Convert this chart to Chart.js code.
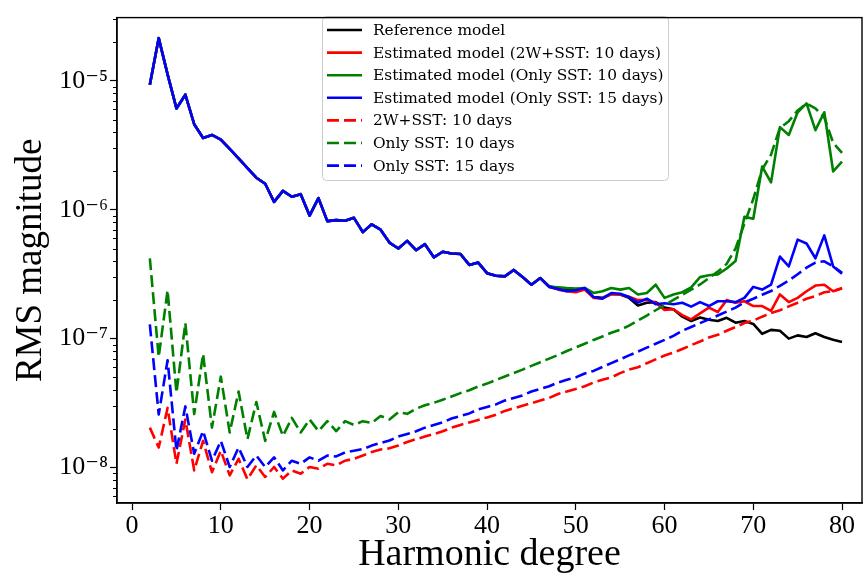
<!DOCTYPE html>
<html>
<head>
<meta charset="utf-8">
<script src="https://cdn.jsdelivr.net/npm/chart.js@4.4.0/dist/chart.umd.min.js"></script>
<style>
  html, body { margin: 0; padding: 0; background: #fff; }
</style>
</head>
<body>
<canvas id="chart" width="868" height="580"></canvas>
<script>
// harmonic degrees on the x axis
const degrees = [2, 3, 4, 5, 6, 7, 8, 9, 10, 11, 12, 13, 14, 15, 16, 17, 18, 19, 20, 21,
  22, 23, 24, 25, 26, 27, 28, 29, 30, 31, 32, 33, 34, 35, 36, 37, 38, 39, 40, 41,
  42, 43, 44, 45, 46, 47, 48, 49, 50, 51, 52, 53, 54, 55, 56, 57, 58, 59, 60, 61,
  62, 63, 64, 65, 66, 67, 68, 69, 70, 71, 72, 73, 74, 75, 76, 77, 78, 79, 80];
const xTicks = [0, 10, 20, 30, 40, 50, 60, 70, 80];
const yDecades = [1e-8, 1e-7, 1e-6, 1e-5];

// the four solid curves lie on top of each other up to degree 46
const solidEarly = [9.3e-6, 2.14e-5, 1.12e-5, 6.1e-6, 7.8e-6, 4.6e-6, 3.6e-6, 3.8e-6, 3.5e-6, 2.96e-6,
  2.5e-6, 2.1e-6, 1.77e-6, 1.59e-6, 1.15e-6, 1.4e-6, 1.26e-6, 1.32e-6, 9.0e-7, 1.23e-6,
  8.15e-7, 8.3e-7, 8.2e-7, 8.65e-7, 6.7e-7, 7.7e-7, 7.0e-7, 5.56e-7, 5.0e-7, 5.73e-7,
  4.85e-7, 5.4e-7, 4.27e-7, 4.72e-7, 4.58e-7, 4.53e-7, 3.73e-7, 3.89e-7, 3.22e-7, 3.07e-7,
  3.04e-7, 3.41e-7, 3.0e-7, 2.62e-7, 2.95e-7];

// degrees 47..80
const refLate = [2.55e-7, 2.47e-7, 2.43e-7, 2.36e-7, 2.43e-7, 2.1e-7, 2.07e-7, 2.23e-7, 2.2e-7, 2.07e-7,
  1.81e-7, 1.9e-7, 1.92e-7, 1.74e-7, 1.69e-7, 1.48e-7, 1.37e-7, 1.46e-7, 1.4e-7, 1.37e-7,
  1.45e-7, 1.33e-7, 1.37e-7, 1.3e-7, 1.09e-7, 1.17e-7, 1.15e-7, 1.0e-7, 1.06e-7, 1.03e-7,
  1.1e-7, 1.03e-7, 9.8e-8, 9.4e-8];
const est2wLate = [2.52e-7, 2.4e-7, 2.33e-7, 2.29e-7, 2.4e-7, 2.07e-7, 2.05e-7, 2.21e-7, 2.2e-7, 2.11e-7,
  1.99e-7, 2.0e-7, 1.9e-7, 1.67e-7, 1.69e-7, 1.52e-7, 1.41e-7, 1.57e-7, 1.74e-7, 1.61e-7,
  1.99e-7, 1.9e-7, 1.95e-7, 1.79e-7, 1.79e-7, 1.64e-7, 2.2e-7, 1.92e-7, 2.07e-7, 2.33e-7,
  2.58e-7, 2.62e-7, 2.33e-7, 2.47e-7];
const estSst10Late = [2.52e-7, 2.5e-7, 2.47e-7, 2.45e-7, 2.47e-7, 2.26e-7, 2.33e-7, 2.47e-7, 2.4e-7, 2.47e-7,
  2.2e-7, 2.26e-7, 2.62e-7, 2.07e-7, 2.2e-7, 2.29e-7, 2.5e-7, 3.0e-7, 3.1e-7, 3.15e-7,
  3.5e-7, 4.0e-7, 8.8e-7, 8.5e-7, 2.16e-6, 1.63e-6, 4.37e-6, 3.8e-6, 5.7e-6, 6.67e-6,
  4.14e-6, 5.7e-6, 1.98e-6, 2.36e-6];
const estSst15Late = [2.52e-7, 2.43e-7, 2.33e-7, 2.37e-7, 2.47e-7, 2.1e-7, 2.04e-7, 2.26e-7, 2.23e-7, 2.1e-7,
  1.9e-7, 2.04e-7, 1.85e-7, 1.88e-7, 1.85e-7, 1.9e-7, 1.77e-7, 1.92e-7, 1.79e-7, 1.95e-7,
  1.95e-7, 1.92e-7, 2.07e-7, 2.52e-7, 2.4e-7, 2.62e-7, 4.33e-7, 3.63e-7, 5.86e-7, 5.47e-7,
  4.2e-7, 6.32e-7, 3.63e-7, 3.18e-7];

// dashed curves, degrees 2..80
const dash2w10 = [2.04e-8, 1.43e-8, 2.9e-8, 1.07e-8, 2.36e-8, 9.5e-9, 1.61e-8, 9.2e-9, 1.35e-8, 8.7e-9,
  1.17e-8, 8.1e-9, 1.04e-8, 8.45e-9, 1.01e-8, 8.2e-9, 9.5e-9, 8.96e-9, 1.01e-8, 9.8e-9,
  1.07e-8, 1.04e-8, 1.13e-8, 1.17e-8, 1.24e-8, 1.32e-8, 1.38e-8, 1.41e-8, 1.48e-8, 1.58e-8,
  1.66e-8, 1.74e-8, 1.82e-8, 1.91e-8, 2.04e-8, 2.14e-8, 2.24e-8, 2.34e-8, 2.45e-8, 2.57e-8,
  2.75e-8, 2.88e-8, 3.02e-8, 3.16e-8, 3.31e-8, 3.47e-8, 3.72e-8, 3.89e-8, 4.07e-8, 4.27e-8,
  4.57e-8, 4.79e-8, 5.0e-8, 5.4e-8, 5.75e-8, 6.0e-8, 6.45e-8, 6.9e-8, 7.4e-8, 7.8e-8,
  8.3e-8, 8.9e-8, 9.5e-8, 1.02e-7, 1.07e-7, 1.15e-7, 1.23e-7, 1.32e-7, 1.38e-7, 1.48e-7,
  1.58e-7, 1.66e-7, 1.78e-7, 1.9e-7, 2.04e-7, 2.14e-7, 2.29e-7, 2.34e-7, 2.45e-7];
const dashSst10 = [4.2e-7, 7.2e-8, 2.37e-7, 3.8e-8, 1.32e-7, 2.6e-8, 7.6e-8, 2.04e-8, 5.07e-8, 1.87e-8,
  3.89e-8, 1.66e-8, 3.22e-8, 1.61e-8, 2.7e-8, 1.76e-8, 2.43e-8, 1.87e-8, 2.36e-8, 1.92e-8,
  2.29e-8, 1.92e-8, 2.29e-8, 2.14e-8, 2.29e-8, 2.22e-8, 2.51e-8, 2.36e-8, 2.69e-8, 2.61e-8,
  2.86e-8, 3.04e-8, 3.18e-8, 3.36e-8, 3.56e-8, 3.78e-8, 3.98e-8, 4.25e-8, 4.48e-8, 4.78e-8,
  5.09e-8, 5.41e-8, 5.75e-8, 6.15e-8, 6.56e-8, 7.0e-8, 7.46e-8, 8.02e-8, 8.55e-8, 9.12e-8,
  9.77e-8, 1.04e-7, 1.11e-7, 1.17e-7, 1.26e-7, 1.38e-7, 1.51e-7, 1.66e-7, 1.82e-7, 2.0e-7,
  2.19e-7, 2.4e-7, 2.63e-7, 2.95e-7, 3.31e-7, 3.8e-7, 5.0e-7, 7.8e-7, 1.21e-6, 2.05e-6,
  2.67e-6, 4.3e-6, 4.86e-6, 5.89e-6, 6.67e-6, 6.1e-6, 5.21e-6, 3.3e-6, 2.76e-6];
const dashSst15 = [1.29e-7, 2.58e-8, 6.8e-8, 1.35e-8, 2.98e-8, 1.28e-8, 1.92e-8, 1.13e-8, 1.61e-8, 1.01e-8,
  1.43e-8, 1.01e-8, 1.24e-8, 1.01e-8, 1.2e-8, 9.5e-9, 1.13e-8, 1.07e-8, 1.2e-8, 1.13e-8,
  1.24e-8, 1.22e-8, 1.31e-8, 1.35e-8, 1.39e-8, 1.48e-8, 1.55e-8, 1.62e-8, 1.74e-8, 1.82e-8,
  1.91e-8, 2.04e-8, 2.14e-8, 2.24e-8, 2.4e-8, 2.51e-8, 2.63e-8, 2.82e-8, 2.95e-8, 3.09e-8,
  3.31e-8, 3.47e-8, 3.63e-8, 3.89e-8, 4.07e-8, 4.27e-8, 4.57e-8, 4.79e-8, 5.0e-8, 5.37e-8,
  5.62e-8, 6.03e-8, 6.46e-8, 6.92e-8, 7.41e-8, 7.94e-8, 8.51e-8, 9.12e-8, 9.77e-8, 1.05e-7,
  1.15e-7, 1.23e-7, 1.32e-7, 1.41e-7, 1.51e-7, 1.62e-7, 1.74e-7, 1.91e-7, 2.04e-7, 2.19e-7,
  2.34e-7, 2.57e-7, 2.82e-7, 3.16e-7, 3.55e-7, 3.89e-7, 3.98e-7, 3.63e-7, 3.24e-7];

const seriesLabels = [
  'Reference model',
  'Estimated model (2W+SST: 10 days)',
  'Estimated model (Only SST: 10 days)',
  'Estimated model (Only SST: 15 days)',
  '2W+SST: 10 days',
  'Only SST: 10 days',
  'Only SST: 15 days'
];
const seriesValues = [
  solidEarly.concat(refLate),
  solidEarly.concat(est2wLate),
  solidEarly.concat(estSst10Late),
  solidEarly.concat(estSst15Late),
  dash2w10,
  dashSst10,
  dashSst15
];
const seriesColors = ['#000000', '#ff0000', '#008000', '#0000ff', '#ff0000', '#008000', '#0000ff'];
const seriesDashed = [false, false, false, false, true, true, true];

const SERIF = '"Liberation Serif", "DejaVu Serif", serif';
const SUP = {'-': '\u207B', '0': '\u2070', '1': '\u00B9', '2': '\u00B2', '3': '\u00B3', '4': '\u2074',
  '5': '\u2075', '6': '\u2076', '7': '\u2077', '8': '\u2078', '9': '\u2079'};
function decadeLabel(v) {
  const e = Math.round(Math.log10(v));
  return '10' + String(e).split('').map(c => SUP[c]).join('');
}
function isDecade(v) {
  return yDecades.some(d => Math.abs(v / d - 1) < 1e-6);
}

// short minor ticks on the log axis, and the box round the plot
const frameAndMinor = {
  id: 'frameAndMinor',
  afterDraw(chart) {
    const ctx = chart.ctx, s = chart.scales.y, a = chart.chartArea;
    ctx.save();
    ctx.strokeStyle = '#000';
    ctx.lineWidth = 1;
    s.ticks.forEach(t => {
      if (t.major) return;
      const py = Math.round(s.getPixelForValue(t.value)) + 0.5;
      ctx.beginPath();
      ctx.moveTo(a.left - 4, py);
      ctx.lineTo(a.left, py);
      ctx.stroke();
    });
    ctx.lineWidth = 1.4;
    ctx.strokeRect(a.left, a.top, a.right - a.left, a.bottom - a.top);
    ctx.restore();
  }
};

const legendBox = {
  id: 'legendBox',
  afterDatasetsDraw(chart) {
    const ctx = chart.ctx;
    ctx.save();
    ctx.beginPath();
    ctx.roundRect(322.5, 16.5, 346, 164, 4);
    ctx.fillStyle = 'rgba(255,255,255,0.85)';
    ctx.fill();
    ctx.strokeStyle = '#cccccc';
    ctx.lineWidth = 1;
    ctx.stroke();
    ctx.font = '15.4px "DejaVu Serif", serif';
    ctx.textBaseline = 'middle';
    chart.data.datasets.forEach((ds, i) => {
      const y = 30 + i * 22.6;
      ctx.beginPath();
      ctx.setLineDash(ds.borderDash || []);
      ctx.strokeStyle = ds.borderColor;
      ctx.lineWidth = ds.borderWidth;
      ctx.moveTo(327, y);
      ctx.lineTo(362, y);
      ctx.stroke();
      ctx.setLineDash([]);
      ctx.fillStyle = '#000';
      ctx.fillText(ds.label, 373, y + 1);
    });
    ctx.restore();
  }
};

const datasets = seriesLabels.map((label, i) => ({
  label: label,
  data: degrees.map((d, k) => ({x: d, y: seriesValues[i][k]})),
  borderColor: seriesColors[i],
  backgroundColor: seriesColors[i],
  borderWidth: 2.6,
  borderDash: seriesDashed[i] ? [12, 5] : [],
  borderJoinStyle: 'round',
  pointRadius: 0,
  tension: 0,
  fill: false,
  order: 7 - i
}));

new Chart(document.getElementById('chart').getContext('2d'), {
  type: 'line',
  data: {datasets: datasets},
  options: {
    responsive: false,
    animation: false,
    devicePixelRatio: 1,
    layout: {padding: {left: 0, right: 6, top: 11, bottom: 0}},
    plugins: {legend: {display: false}, tooltip: {enabled: false}},
    scales: {
      x: {
        type: 'linear',
        min: -1.7,
        max: 82.25,
        afterBuildTicks(scale) {
          scale.ticks = xTicks.map(v => ({value: v}));
        },
        afterFit(scale) { scale.height = 77; },
        grid: {drawOnChartArea: false, tickLength: 7, tickColor: '#000', tickWidth: 1.2},
        border: {color: '#000', width: 1.4},
        ticks: {color: '#000', font: {family: SERIF, size: 26}, padding: 1, maxRotation: 0, autoSkip: false},
        title: {display: true, text: 'Harmonic degree', color: '#000',
          font: {family: SERIF, size: 38}, padding: {top: 0, bottom: 2}}
      },
      y: {
        type: 'logarithmic',
        min: 5.31e-9,
        max: 3.09e-5,
        afterBuildTicks(scale) {
          const t = [];
          [1e-9].concat(yDecades).forEach(d => {
            for (let k = 1; k < 10; k++) {
              const v = d * k;
              if (v >= scale.min && v <= scale.max) t.push({value: v, major: k === 1});
            }
          });
          scale.ticks = t;
        },
        afterFit(scale) { scale.width = 117; },
        grid: {
          drawOnChartArea: false, tickLength: 7, tickWidth: 1.2,
          tickColor: c => (c.tick && c.tick.major) ? '#000' : 'rgba(0,0,0,0)'
        },
        border: {color: '#000', width: 1.4},
        ticks: {
          color: '#000', font: {family: SERIF, size: 26}, padding: 2, autoSkip: false,
          callback: v => isDecade(v) ? decadeLabel(v) : ''
        },
        title: {display: true, text: 'RMS magnitude', color: '#000',
          font: {family: SERIF, size: 37}, padding: {top: 9, bottom: 0}}
      }
    }
  },
  plugins: [frameAndMinor, legendBox]
});
</script>
</body>
</html>
